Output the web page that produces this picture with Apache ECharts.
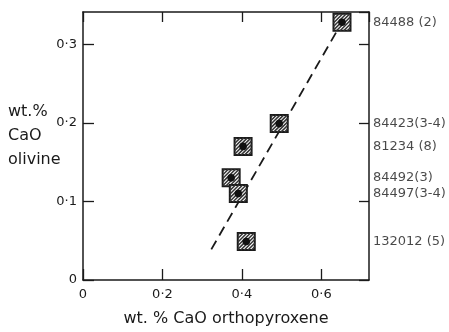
<!DOCTYPE html>
<html>
<head>
<meta charset="utf-8">
<style>html,body{margin:0;padding:0;background:#fff}#c{width:449px;height:332px}</style>
<script src="https://cdn.jsdelivr.net/npm/echarts@6/dist/echarts.min.js"></script>
</head>
<body>
<div id="c"></div>
<script>
// Data
var sampleNames = ['84488 (2)', '84423(3-4)', '81234 (8)', '84492(3)', '84497(3-4)', '132012 (5)'];
var caoOpx = [0.652, 0.494, 0.403, 0.373, 0.391, 0.411];
var caoOl  = [0.328, 0.199, 0.170, 0.130, 0.110, 0.049];
var trendX = [0.323, 0.652];
var trendY = [0.039, 0.328];
var X_MAX = 0.72, Y_MAX = 0.341;

function fmt(v){ return v === 0 ? '0' : v.toFixed(1).replace('.', '·'); }

var chart = echarts.init(document.getElementById('c'));
var pts = caoOpx.map(function(x,i){ return [x, caoOl[i]]; });
var labelPts = caoOl.map(function(y,i){ return {value:[X_MAX, y], name: sampleNames[i]}; });
var trend = trendX.map(function(x,i){ return [x, trendY[i]]; });

var INK = '#1a1a1a';

function renderSquare(params, api){
  var p = api.coord([api.value(0), api.value(1)]);
  var cx = p[0], cy = p[1], h = 8.5;
  var children = [{
    type:'rect', shape:{x:cx-h, y:cy-h, width:2*h, height:2*h},
    style:{fill:'#fff', stroke:INK, lineWidth:2}
  }];
  for (var t = -2*h + 2; t < 2*h; t += 3.6){
    var umin = Math.max(-h, t-h), umax = Math.min(h, t+h);
    children.push({type:'line', shape:{x1:cx+umin, y1:cy+(t-umin), x2:cx+umax, y2:cy+(t-umax)},
      style:{stroke:'#333', lineWidth:1.5}});
  }
  children.push({type:'circle', shape:{cx:cx, cy:cy, r:3.8}, style:{fill:'#111'}});
  return {type:'group', children:children};
}

var tickFont = {fontFamily:'DejaVu Sans', fontSize:13, color:INK};
var axLine = {show:true, onZero:false, lineStyle:{color:INK, width:1.5}};
var tickStyle = {color:INK, width:1.3};

chart.setOption({
  animation:false,
  backgroundColor:'#fff',
  grid:{left:83, right:80, top:12, bottom:48, containLabel:false},
  xAxis:[{
    type:'value', min:0, max:X_MAX, interval:0.2,
    axisLine:axLine,
    axisTick:{inside:true, length:11, lineStyle:tickStyle},
    splitLine:{show:false},
    axisLabel:Object.assign({margin:8, showMaxLabel:false, formatter:fmt}, tickFont),
    name:'wt. % CaO orthopyroxene', nameLocation:'middle', nameGap:31,
    nameTextStyle:{fontFamily:'DejaVu Sans', fontSize:16, color:INK}
  },{
    type:'value', position:'top', min:0, max:X_MAX, interval:0.2,
    axisLine:axLine,
    axisTick:{inside:true, length:10, lineStyle:tickStyle},
    axisLabel:{show:false}, splitLine:{show:false}
  }],
  yAxis:[{
    type:'value', min:0, max:Y_MAX, interval:0.1,
    axisLine:axLine,
    axisTick:{show:true, inside:true, length:11, lineStyle:tickStyle},
    splitLine:{show:false},
    axisLabel:Object.assign({margin:6, showMaxLabel:false, formatter:fmt}, tickFont)
  },{
    type:'value', position:'right', min:0, max:Y_MAX, interval:0.1,
    axisLine:axLine,
    axisTick:{show:true, inside:true, length:10, lineStyle:tickStyle},
    axisLabel:{show:false}, splitLine:{show:false}
  }],
  graphic:[{
    type:'text', left:8, top:100,
    style:{text:'wt.%\nCaO\nolivine', fontFamily:'DejaVu Sans', fontSize:16, lineHeight:24, fill:INK}
  }],
  series:[{
    type:'line', data:trend, symbol:'none', z:2,
    lineStyle:{color:INK, width:1.8, type:[10,6]}
  },{
    type:'custom', data:pts, renderItem:renderSquare, z:3
  },{
    type:'scatter', data:labelPts, symbolSize:0, clip:false, silent:true,
    label:{show:true, position:'right', distance:4, formatter:'{b}',
      fontFamily:'DejaVu Sans', fontSize:13, color:INK}
  }]
});
</script>
</body>
</html>
